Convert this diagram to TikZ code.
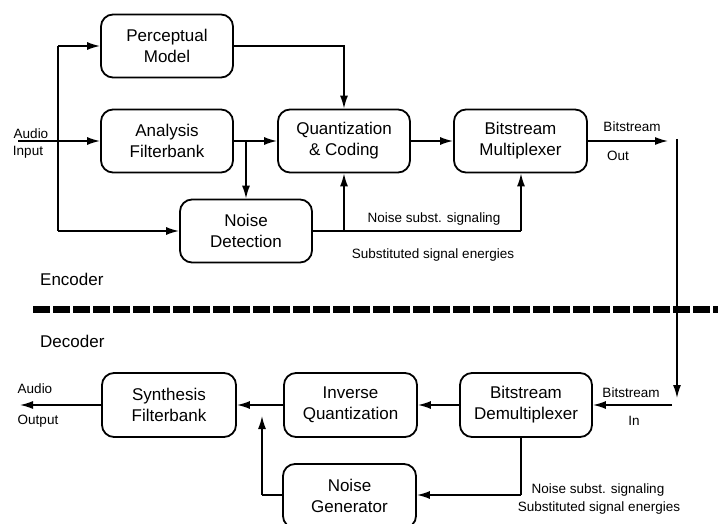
\documentclass[tikz,border=0pt]{standalone}
\usepackage{fontspec}
\setmainfont{Liberation Sans}
\usetikzlibrary{arrows.meta}
\begin{document}
\begin{tikzpicture}[x=1pt,y=-1pt,
  block/.style={draw,line width=1.8pt,rounded corners=12pt,minimum width=132pt,
    minimum height=63pt,align=center,inner sep=0pt,
    font=\fontsize{17}{21}\selectfont},
  flow/.style={line width=1.5pt,-{Latex[length=13pt,width=8pt]}},
  wire/.style={line width=1.5pt},
  small/.style={font=\fontsize{13.5}{15}\selectfont,inner sep=0pt},
  part/.style={font=\fontsize{17}{20}\selectfont,anchor=west,inner sep=0pt}]
\useasboundingbox (0,0) rectangle (718,524);
\clip (0,0) rectangle (718,524);

% ---------------- encoder ----------------
\node[block] (perc)  at (167,46)  {Perceptual\\Model};
\node[block] (anal)  at (167,141) {Analysis\\Filterbank};
\node[block] (quant) at (344,141) {Quantization\\\& Coding};
\node[block,minimum width=133pt] (mux) at (520.5,141) {Bitstream\\Multiplexer};
\node[block] (ndet)  at (246,231) {Noise\\Detection};

\coordinate (ain)  at (18,141);
\coordinate (vsplit) at (58,141);
\coordinate (bout) at (668,141);
\coordinate (btop) at (677,139);
\coordinate (bbot) at (677,398);
\coordinate (bin)  at (672,405);
\coordinate (sig)  at (521,231);

\node[small] (ailab) at (31,134) {Audio};
\node[small] (ailab2) at (28,152) {Input};

\draw[flow] (ain) -- (anal.west);
\draw[wire] (vsplit |- perc.west) -- (vsplit |- ndet.west);
\draw[flow] (vsplit |- perc.west) -- (perc.west);
\draw[flow] (vsplit |- ndet.west) -- (ndet.west);
\draw[flow] (perc.east) -| (quant.north);
\draw[flow] (anal.east) -- (quant.west);
\draw[flow] (anal.east -| ndet.north) -- (ndet.north);
\draw[flow] (quant.east) -- (mux.west);
\draw[wire] (ndet.east) -- (sig);
\draw[flow] (sig) -- (sig |- mux.south);
\draw[flow] (ndet.east -| quant.south) -- (quant.south);
\draw[flow] (mux.east) -- (bout);
\draw[flow] (btop) -- (bbot);

\node[small] (nss) at (434,219) {Noise subst. signaling};
\node[small] (sse) at (433,255) {Substituted signal energies};
\node[small] (bsout) at (632,127) {Bitstream};
\node[small] (outlab) at (618,156) {Out};

% ---------------- separator ----------------
\node[part] (enc) at (40,279) {Encoder};
\node[part] (dec) at (40,341) {Decoder};
\coordinate (sepL) at (33,309);
\coordinate (sepR) at (718,309);
\draw[line width=7pt,dash pattern=on 17pt off 3pt] (sepL) -- (sepR);

% ---------------- decoder ----------------
\node[block,minimum width=134pt,minimum height=64pt] (synth) at (169,405) {Synthesis\\Filterbank};
\node[block,minimum width=133pt,minimum height=64pt] (invq) at (350.5,405) {Inverse\\Quantization};
\node[block,minimum width=132pt,minimum height=64pt] (demux) at (526,405) {Bitstream\\Demultiplexer};
\node[block,minimum width=133pt,minimum height=64pt] (ngen) at (349.5,496) {Noise\\Generator};

\coordinate (aout) at (20,405);
\coordinate (dsig) at (521,495);
\coordinate (gx) at (262,495);

\draw[flow] (bin) -- (demux.east);
\draw[flow] (demux.west) -- (invq.east);
\draw[flow] (invq.west) -- (synth.east);
\draw[flow] (synth.west) -- (aout);
\draw[wire] ([xshift=-5pt]demux.south) -- (dsig);
\draw[flow] (dsig) -- (dsig -| ngen.east);
\draw[wire] (ngen.west |- gx) -- (gx);
\draw[flow] (gx) -- (262,416);

\node[small] (aolab) at (35,389) {Audio};
\node[small] (aolab2) at (38,421) {Output};
\node[small] (bsin) at (631,393) {Bitstream};
\node[small] (inlab) at (634,421) {In};
\node[small] (nss2) at (598,490) {Noise subst. signaling};
\node[small] (sse2) at (599,508) {Substituted signal energies};
\end{tikzpicture}
\end{document}
